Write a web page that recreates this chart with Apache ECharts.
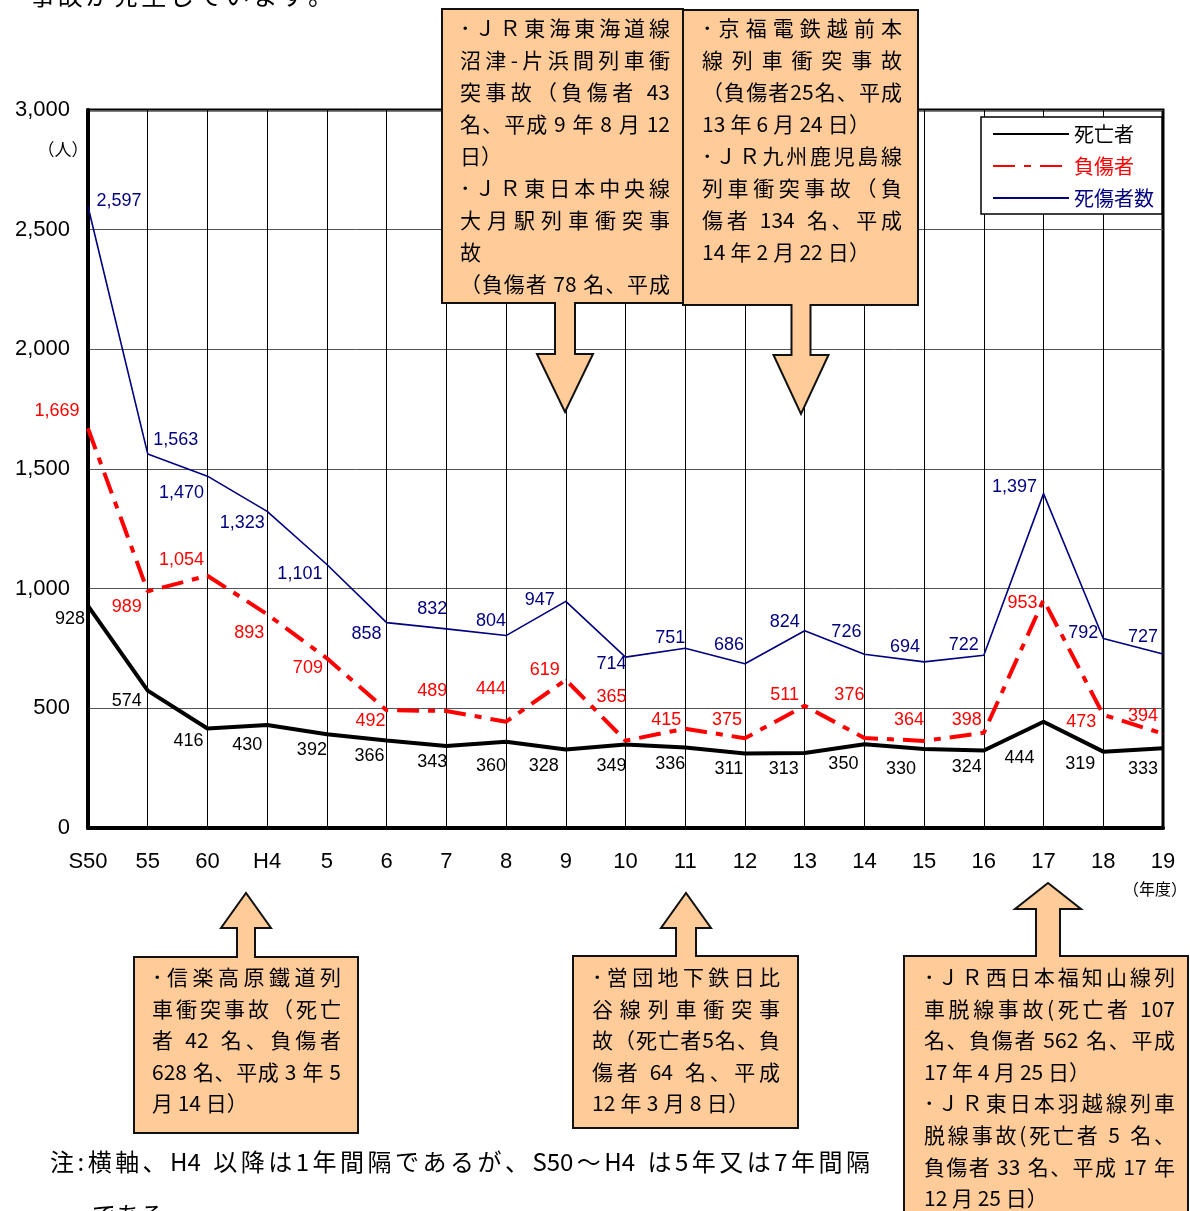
<!DOCTYPE html>
<html>
<head>
<meta charset="utf-8">
<script src="https://cdn.jsdelivr.net/npm/echarts@6/dist/echarts.min.js"></script>
<style>
  html, body { margin: 0; padding: 0; background: #fff; }
  #chart { width: 1190px; height: 1211px; }
</style>
</head>
<body>
<div id="chart"></div>
<script>
// 年度別の列車事故による死傷者数
const categories = ['S50', '55', '60', 'H4', '5', '6', '7', '8', '9', '10', '11', '12', '13', '14', '15', '16', '17', '18', '19'];
const deaths     = [928, 574, 416, 430, 392, 366, 343, 360, 328, 349, 336, 311, 313, 350, 330, 324, 444, 319, 333];
const injuries   = [1669, 989, 1054, 893, 709, 492, 489, 444, 619, 365, 415, 375, 511, 376, 364, 398, 953, 473, 394];
const casualties = [2597, 1563, 1470, 1323, 1101, 858, 832, 804, 947, 714, 751, 686, 824, 726, 694, 722, 1397, 792, 727];
const seriesNames = ['死亡者', '負傷者', '死傷者数'];

// where each value label sits relative to its point (dx, dy in px)
const deathLabelOffsets = [[-18,13],[-21,10],[-19,13],[-20,20],[-15,16],[-17,16],[-14,16],[-15,24],[-22,17],[-14,22],[-15,16],[-16,15],[-21,16],[-21,20],[-23,20],[-17,17],[-24,36],[-23,12],[-20,21]];
const injuryLabelOffsets = [[-31,-18],[-21,16],[-26,-16],[-18,19],[-19,10],[-16,11],[-14,-20],[-15,-33],[-21,-10],[-14,-44],[-19,-9],[-18,-18],[-20,-11],[-15,-43],[-15,-21],[-17,-13],[-21,3],[-22,7],[-20,-18]];
const casualtyLabelOffsets = [[31,-5],[28,-14],[-26,17],[-25,12],[-27,10],[-20,11],[-14,-20],[-15,-15],[-26,-1],[-14,7],[-15,-10],[-16,-19],[-20,-9],[-18,-22],[-19,-15],[-20,-10],[-29,-7],[-20,-5],[-20,-17]];

const NAVY = '#000080';
const RED = '#ff0000';
const BLACK = '#000000';
const JP = '"Noto Sans CJK JP"';
const NUM = '"Liberation Sans", "Noto Sans CJK JP"';

// accident callouts: box outline + arrow, text lines justified across the box
const callouts = [
  { dir: 'down', box: [442, 9, 683, 303], arrow: { cx: 565, sw: 10, hw: 28, neck: 354, tip: 412 },
    textX: [460, 670], textY: 28, lineH: 32,
    lines: ['･ＪＲ東海東海道線', '沼津-片浜間列車衝', '突事故（負傷者 43', '名、平成 9 年 8 月 12', ['日）'],
            '･ＪＲ東日本中央線', '大月駅列車衝突事', ['故'], '（負傷者 78 名、平成'] },
  { dir: 'down', box: [683, 10, 918, 305], arrow: { cx: 801, sw: 9.5, hw: 27.5, neck: 355, tip: 414 },
    textX: [702, 902], textY: 28, lineH: 32,
    lines: ['･京福電鉄越前本', '線列車衝突事故', '（負傷者25名、平成', ['13 年 6 月 24 日）', 870],
            '･ＪＲ九州鹿児島線', '列車衝突事故（負', '傷者 134 名、平成', ['14 年 2 月 22 日）', 870]] },
  { dir: 'up', box: [134, 957, 358, 1133], arrow: { cx: 246, sw: 9, hw: 25, neck: 928, tip: 893 },
    textX: [152, 341], textY: 977, lineH: 31.6,
    lines: ['･信楽高原鐵道列', '車衝突事故（死亡', '者 42 名、負傷者', '628 名、平成 3 年 5', ['月 14 日）', 245]] },
  { dir: 'up', box: [573, 956, 798, 1128], arrow: { cx: 686, sw: 10, hw: 25, neck: 928, tip: 893 },
    textX: [592, 780], textY: 977, lineH: 31.6,
    lines: ['･営団地下鉄日比', '谷線列車衝突事', '故（死亡者5名、負', '傷者 64 名、平成', ['12 年 3 月 8 日）', 749]] },
  { dir: 'up', box: [904, 956, 1188, 1240], arrow: { cx: 1048, sw: 12, hw: 33, neck: 909, tip: 883 },
    textX: [924, 1175], textY: 977, lineH: 31.6,
    lines: ['･ＪＲ西日本福知山線列', '車脱線事故(死亡者 107', '名、負傷者 562 名、平成', ['17 年 4 月 25 日）', 1090],
            '･ＪＲ東日本羽越線列車', '脱線事故(死亡者 5 名、', '負傷者 33 名、平成 17 年', ['12 月 25 日）', 1042]] }
];

const measureCtx = document.createElement('canvas').getContext('2d');

// split a line into glyph tokens (runs of half-width letters/digits stay together)
// and spread them evenly between x0 and x1
function justifiedText(str, x0, x1, y, size, color) {
  const font = size + 'px ' + JP;
  measureCtx.font = font;
  const tokens = str.match(/[0-9A-Za-z,]+|\s+|[^\s0-9A-Za-z]/g) || [];
  const widths = tokens.map(t => measureCtx.measureText(t).width);
  const total = widths.reduce((a, b) => a + b, 0);
  const gap = tokens.length > 1 ? Math.max(0, (x1 - x0 - total) / (tokens.length - 1)) : 0;
  const out = [];
  let x = x0;
  tokens.forEach((t, i) => {
    if (!/^\s+$/.test(t)) {
      out.push({ type: 'text', x: x, y: y, z: 101,
        style: { text: t, font: font, fill: color, align: 'left', verticalAlign: 'middle' } });
    }
    x += widths[i] + gap;
  });
  return out;
}

function calloutPoints(c) {
  const [x0, y0, x1, y1] = c.box;
  const a = c.arrow;
  if (c.dir === 'down') {
    return [[x0, y0], [x1, y0], [x1, y1], [a.cx + a.sw, y1], [a.cx + a.sw, a.neck], [a.cx + a.hw, a.neck],
            [a.cx, a.tip], [a.cx - a.hw, a.neck], [a.cx - a.sw, a.neck], [a.cx - a.sw, y1], [x0, y1]];
  }
  return [[x0, y0], [a.cx - a.sw, y0], [a.cx - a.sw, a.neck], [a.cx - a.hw, a.neck], [a.cx, a.tip],
          [a.cx + a.hw, a.neck], [a.cx + a.sw, a.neck], [a.cx + a.sw, y0], [x1, y0], [x1, y1], [x0, y1]];
}

const graphics = [];
callouts.forEach(c => {
  graphics.push({ type: 'polygon', z: 100, shape: { points: calloutPoints(c) },
    style: { fill: '#ffcc99', stroke: '#111', lineWidth: 2, lineJoin: 'miter' } });
  c.lines.forEach((ln, i) => {
    const y = c.textY + i * c.lineH;
    if (Array.isArray(ln)) {
      if (ln.length > 1) {
        graphics.push(...justifiedText(ln[0], c.textX[0], ln[1], y, 21, '#000'));
      } else {
        graphics.push({ type: 'text', x: c.textX[0], y: y, z: 101,
          style: { text: ln[0], font: '21px ' + JP, fill: '#000', align: 'left', verticalAlign: 'middle' } });
      }
    } else {
      graphics.push(...justifiedText(ln, c.textX[0], c.textX[1], y, 21, '#000'));
    }
  });
});

// running text above and below the chart
graphics.push(...justifiedText('事故が発生しています。', 30, 333, -5, 25, '#000'));
graphics.push(...justifiedText('注:横軸、H4 以降は1年間隔であるが、S50～H4 は5年又は7年間隔', 50, 870, 1162, 24, '#000'));
graphics.push({ type: 'text', x: 92, y: 1215, z: 101,
  style: { text: 'である。', font: '24px ' + JP, fill: '#000', align: 'left', verticalAlign: 'middle' } });

// axis unit captions
graphics.push({ type: 'text', x: 63, y: 150, z: 10,
  style: { text: '（人）', font: '17px ' + JP, fill: '#000', align: 'center', verticalAlign: 'middle' } });
graphics.push({ type: 'text', x: 1155, y: 889, z: 10,
  style: { text: '（年度）', font: '16px ' + JP, fill: '#000', align: 'center', verticalAlign: 'middle' } });

function withOffsets(values, offsets) {
  return values.map((v, i) => ({ value: v, label: { offset: offsets[i] } }));
}

function labelStyle(color) {
  return {
    show: true, position: 'inside', color: color, fontSize: 18, fontFamily: NUM,
    formatter: p => p.value.toLocaleString('en-US')
  };
}

const chart = echarts.init(document.getElementById('chart'), null, { renderer: 'canvas' });
chart.setOption({
  animation: false,
  backgroundColor: '#fff',
  grid: { left: 88, right: 27, top: 110, bottom: 383, show: true, borderColor: '#000', borderWidth: 3, backgroundColor: 'transparent' },
  legend: {
    orient: 'vertical', left: 981, top: 117,
    padding: [7, 8, 6, 11], itemWidth: 76, itemHeight: 20, itemGap: 12,
    backgroundColor: '#fff', borderColor: '#000', borderWidth: 1.5,
    itemStyle: { opacity: 0 },
    textStyle: { fontSize: 20, fontFamily: JP },
    data: [
      { name: seriesNames[0], textStyle: { color: BLACK } },
      { name: seriesNames[1], textStyle: { color: RED } },
      { name: seriesNames[2], textStyle: { color: NAVY } }
    ]
  },
  xAxis: {
    type: 'category', data: categories, boundaryGap: false,
    axisLine: { show: true, lineStyle: { color: '#000', width: 4 } },
    axisTick: { show: false },
    axisLabel: { interval: 0, margin: 23, color: '#000', fontSize: 22, fontFamily: NUM },
    splitLine: { show: true, interval: 0, lineStyle: { color: '#000', width: 1 } }
  },
  yAxis: {
    type: 'value', min: 0, max: 3000, interval: 500,
    axisLine: { show: true, lineStyle: { color: '#000', width: 4 } },
    axisTick: { show: false },
    axisLabel: { margin: 18, color: '#000', fontSize: 22, fontFamily: NUM,
      formatter: v => v.toLocaleString('en-US') },
    splitLine: { show: true, lineStyle: { color: '#555', width: 1 } }
  },
  series: [
    {
      name: seriesNames[2], type: 'line', z: 3,
      data: withOffsets(casualties, casualtyLabelOffsets),
      symbol: 'circle', symbolSize: 1, showSymbol: true,
      itemStyle: { color: NAVY },
      lineStyle: { color: NAVY, width: 1.6 },
      label: labelStyle(NAVY)
    },
    {
      name: seriesNames[1], type: 'line', z: 4,
      data: withOffsets(injuries, injuryLabelOffsets),
      symbol: 'circle', symbolSize: 1, showSymbol: true,
      itemStyle: { color: RED },
      lineStyle: { color: RED, width: 4, type: [22, 9, 7, 9], cap: 'butt' },
      label: labelStyle(RED)
    },
    {
      name: seriesNames[0], type: 'line', z: 5,
      data: withOffsets(deaths, deathLabelOffsets),
      symbol: 'circle', symbolSize: 1, showSymbol: true,
      itemStyle: { color: BLACK },
      lineStyle: { color: BLACK, width: 4 },
      label: labelStyle(BLACK)
    }
  ],
  graphic: { elements: graphics }
});
</script>
</body>
</html>
